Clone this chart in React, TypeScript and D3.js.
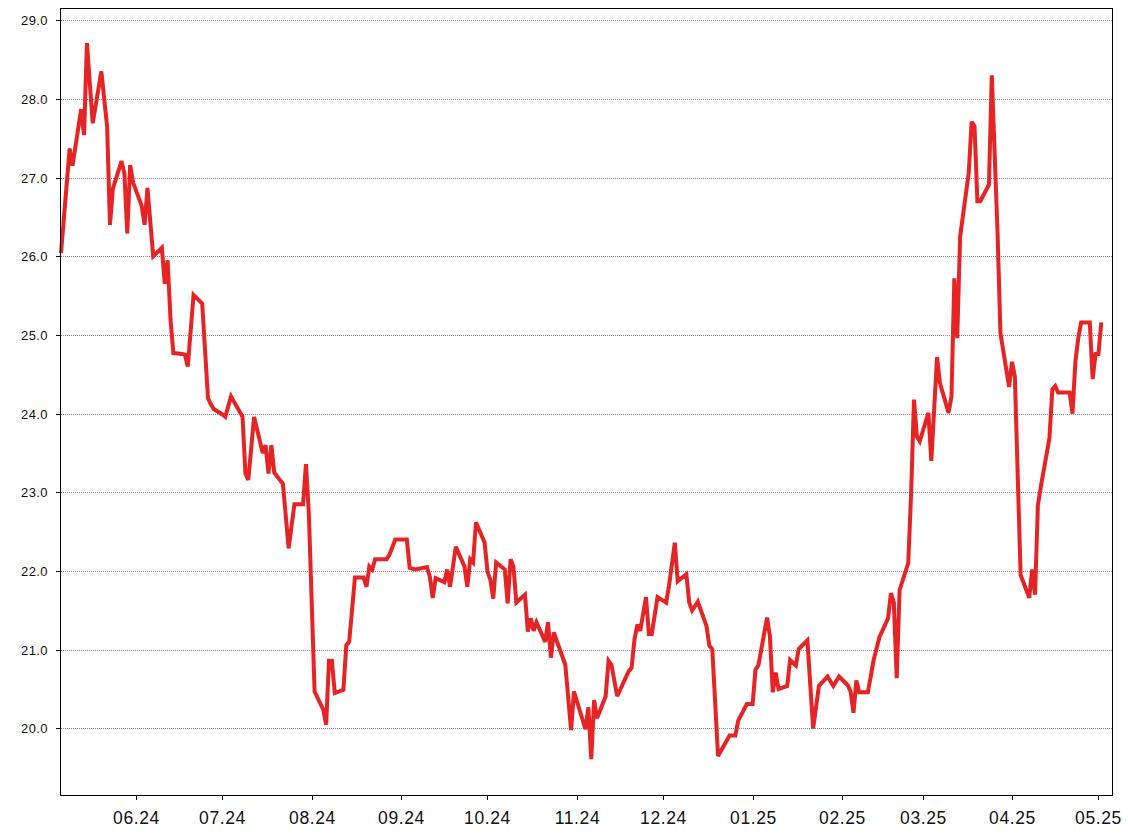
import React from "react";
import * as d3 from "d3";

const dates: string[] = [
  "2024-05-06","2024-05-09","2024-05-10","2024-05-13","2024-05-14","2024-05-15","2024-05-17","2024-05-20","2024-05-22","2024-05-23",
  "2024-05-24","2024-05-27","2024-05-28","2024-05-29","2024-05-30","2024-05-31","2024-06-03","2024-06-04","2024-06-05","2024-06-07",
  "2024-06-10","2024-06-11","2024-06-12","2024-06-13","2024-06-14","2024-06-17","2024-06-18","2024-06-19","2024-06-21","2024-06-24",
  "2024-06-26","2024-06-27","2024-06-28","2024-07-01","2024-07-02","2024-07-04","2024-07-08","2024-07-09","2024-07-10","2024-07-12",
  "2024-07-15","2024-07-16","2024-07-17","2024-07-18","2024-07-19","2024-07-22","2024-07-24","2024-07-26","2024-07-29","2024-07-30",
  "2024-07-31","2024-08-02","2024-08-05","2024-08-06","2024-08-07","2024-08-08","2024-08-09","2024-08-12","2024-08-13","2024-08-14",
  "2024-08-16","2024-08-19","2024-08-20","2024-08-21","2024-08-22","2024-08-23","2024-08-27","2024-08-28","2024-08-30","2024-09-03",
  "2024-09-04","2024-09-06","2024-09-10","2024-09-11","2024-09-12","2024-09-13","2024-09-16","2024-09-17","2024-09-18","2024-09-20",
  "2024-09-23","2024-09-24","2024-09-25","2024-09-26","2024-09-27","2024-09-30","2024-10-01","2024-10-02","2024-10-03","2024-10-04",
  "2024-10-07","2024-10-08","2024-10-09","2024-10-10","2024-10-11","2024-10-14","2024-10-15","2024-10-16","2024-10-17","2024-10-18",
  "2024-10-21","2024-10-22","2024-10-23","2024-10-24","2024-10-28","2024-10-30","2024-10-31","2024-11-04","2024-11-05","2024-11-06",
  "2024-11-07","2024-11-08","2024-11-11","2024-11-12","2024-11-13","2024-11-15","2024-11-19","2024-11-20","2024-11-21","2024-11-22",
  "2024-11-23","2024-11-25","2024-11-26","2024-11-27","2024-11-29","2024-12-02","2024-12-03","2024-12-05","2024-12-06","2024-12-09",
  "2024-12-10","2024-12-11","2024-12-13","2024-12-16","2024-12-17","2024-12-18","2024-12-20","2024-12-24","2024-12-26","2024-12-27",
  "2024-12-30","2025-01-01","2025-01-02","2025-01-03","2025-01-06","2025-01-07","2025-01-08","2025-01-09","2025-01-10","2025-01-13",
  "2025-01-14","2025-01-16","2025-01-17","2025-01-20","2025-01-22","2025-01-24","2025-01-27","2025-01-29","2025-01-31","2025-02-03",
  "2025-02-04","2025-02-05","2025-02-06","2025-02-07","2025-02-10","2025-02-12","2025-02-14","2025-02-17","2025-02-18","2025-02-19",
  "2025-02-20","2025-02-21","2025-02-24","2025-02-25","2025-02-26","2025-02-27","2025-02-28","2025-03-03","2025-03-04","2025-03-06",
  "2025-03-07","2025-03-10","2025-03-11","2025-03-12","2025-03-13","2025-03-14","2025-03-17","2025-03-18","2025-03-19","2025-03-20",
  "2025-03-21","2025-03-24","2025-03-25","2025-03-27","2025-03-28","2025-03-31","2025-04-01","2025-04-02","2025-04-04","2025-04-07",
  "2025-04-08","2025-04-09","2025-04-10","2025-04-11","2025-04-14","2025-04-15","2025-04-16","2025-04-17","2025-04-21","2025-04-22",
  "2025-04-23","2025-04-24","2025-04-25","2025-04-28","2025-04-29","2025-04-30","2025-05-01","2025-05-02",
];

const values: number[] = [
  26.04,27.37,27.15,27.87,27.54,28.71,27.69,28.35,27.65,26.40,
  26.86,27.21,27.05,26.29,27.16,26.94,26.64,26.40,26.87,26.00,
  26.11,25.65,25.95,25.20,24.77,24.76,24.75,24.60,25.51,25.40,
  24.20,24.12,24.06,23.99,23.96,24.22,23.96,23.24,23.16,23.96,
  23.50,23.60,23.24,23.60,23.25,23.11,22.29,22.85,22.85,23.36,
  22.74,20.47,20.24,20.05,20.86,20.86,20.45,20.49,21.06,21.10,
  21.92,21.92,21.80,22.06,22.02,22.15,22.15,22.21,22.40,22.40,
  22.04,22.02,22.05,21.93,21.66,21.91,21.86,22.02,21.80,22.31,
  22.06,21.80,22.15,22.11,22.62,22.36,21.99,21.89,21.65,22.11,
  22.02,21.59,22.15,22.06,21.60,21.70,21.23,21.40,21.24,21.35,
  21.10,21.35,20.90,21.22,20.81,19.98,20.47,19.99,20.27,19.61,
  20.36,20.13,20.41,20.86,20.81,20.41,20.73,20.77,21.13,21.32,
  21.24,21.67,21.20,21.20,21.67,21.60,21.82,22.36,21.87,21.96,
  21.60,21.50,21.61,21.30,21.05,21.01,19.65,19.91,19.91,20.10,
  20.31,20.31,20.75,20.80,21.41,21.17,20.46,20.71,20.50,20.54,
  20.87,20.80,21.01,21.12,20.00,20.54,20.66,20.54,20.66,20.55,
  20.47,20.20,20.61,20.46,20.46,20.87,21.16,21.40,21.72,21.60,
  20.64,21.76,22.10,22.99,24.18,23.71,23.65,24.01,23.40,24.72,
  24.39,24.01,24.22,25.72,24.96,26.25,27.06,27.71,27.65,26.70,
  26.70,26.91,28.30,26.29,25.02,24.34,24.66,24.47,21.95,21.66,
  22.02,21.70,22.84,23.07,23.69,24.31,24.35,24.27,24.27,24.00,
  24.66,24.96,25.16,25.16,24.44,24.76,24.76,25.16,
];

const yTicks: number[] = [20, 21, 22, 23, 24, 25, 26, 27, 28, 29];
const xTickDates: string[] = [
  "2024-06-01","2024-07-01","2024-08-01","2024-09-01","2024-10-01","2024-11-01",
  "2024-12-01","2025-01-01","2025-02-01","2025-03-01","2025-04-01","2025-05-01",
];

const W = 1128, H = 836;
const L = 61, R = 1112, T = 8, B = 795;
const FONT = "'Liberation Sans', Arial, Helvetica, sans-serif";

export default function App() {
  const parse = d3.timeParse("%Y-%m-%d");
  const data = dates.map((d, i) => ({ date: parse(d) as Date, value: values[i] }));
  const x = d3.scaleTime()
    .domain([parse("2024-05-06") as Date, new Date(2025, 4, 5, 17)])
    .range([L, R]);
  const y = d3.scaleLinear().domain([19.155, 29.155]).range([B, T]);
  const line = d3.line<{ date: Date; value: number }>()
    .x(d => x(d.date))
    .y(d => y(d.value));
  const fmt = d3.timeFormat("%m.%y");

  return (
    <svg width={W} height={H} style={{ position: "absolute", left: 0, top: 0, background: "#fff" }}>
      <rect x={0} y={0} width={W} height={H} fill="#fff" />
      {yTicks.map(t => {
        const yy = Math.round(y(t)) + 0.5;
        return (
          <g key={t}>
            <line x1={L} x2={R} y1={yy} y2={yy} stroke="#8a8a8a" strokeWidth={1} strokeDasharray="1,1" />
            <line x1={L - 5} x2={L} y1={yy} y2={yy} stroke="#000" strokeWidth={1} />
            <text x={48} y={yy} dy="0.36em" textAnchor="end" fontFamily={FONT} fontSize={13} letterSpacing={0.4} fill="#111">
              {t.toFixed(1)}
            </text>
          </g>
        );
      })}
      {xTickDates.map(s => {
        const d = parse(s) as Date;
        const xx = Math.round(x(d)) + 0.5;
        return (
          <g key={s}>
            <line x1={xx} x2={xx} y1={B} y2={B + 5} stroke="#000" strokeWidth={1} />
            <text x={xx} y={824} textAnchor="middle" fontFamily={FONT} fontSize={17.5} letterSpacing={0.6} fill="#111">
              {fmt(d)}
            </text>
          </g>
        );
      })}
      <path d={line(data) || ""} fill="none" stroke="#e62325" strokeWidth={4} strokeLinejoin="miter" strokeMiterlimit={3} />
      <rect x={L - 0.5} y={T + 0.5} width={R - L + 1} height={B - T} fill="none" stroke="#000" strokeWidth={1} />
    </svg>
  );
}
